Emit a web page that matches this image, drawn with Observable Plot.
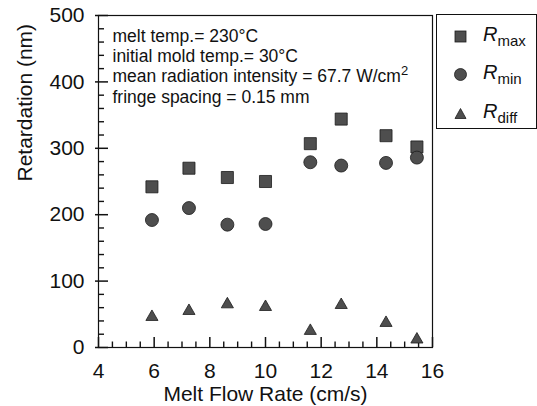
<!DOCTYPE html>
<html><head><meta charset="utf-8">
<script src="https://cdn.jsdelivr.net/npm/d3@7"></script>
<script src="https://cdn.jsdelivr.net/npm/@observablehq/plot@0.6"></script>
<style>
body{margin:0;background:#fff;}
#wrap{position:relative;width:537px;height:406px;font-family:"Liberation Sans",Arial,sans-serif;color:#111;}
#legend{position:absolute;left:436px;top:14px;width:101px;height:115px;border:1.2px solid #111;box-sizing:border-box;background:#fff;}
.entry{position:absolute;left:0;height:30px;width:100px;}
.entry svg{position:absolute;left:17px;top:8px;}
.entry .lab{position:absolute;left:46px;top:2px;font-size:20px;line-height:20px;white-space:nowrap;}
.entry .lab i{font-style:italic;}
.entry .lab sub{font-size:15px;vertical-align:-5px;line-height:0;}
</style></head>
<body><div id="wrap"></div>
<script>
const flowRate = [5.92, 7.25, 8.63, 10.0, 11.61, 12.72, 14.33, 15.44];
const rMax = [242, 270, 256, 250, 307, 344, 319, 302];
const rMin = [192, 210, 185, 186, 279, 274, 278, 286];
const rDiff = [46, 55, 65, 61, 25, 64, 37, 12];
const xMajor = [4, 6, 8, 10, 12, 14, 16];
const xMinor = [4.5, 5, 5.5, 6.5, 7, 7.5, 8.5, 9, 9.5, 10.5, 11, 11.5, 12.5, 13, 13.5, 14.5, 15, 15.5];
const yMajor = [0, 100, 200, 300, 400, 500];
const yMinor = [20, 40, 60, 80, 120, 140, 160, 180, 220, 240, 260, 280, 320, 340, 360, 380, 420, 440, 460, 480];
const annotation = ["melt temp.= 230°C", "initial mold temp.= 30°C", "mean radiation intensity = 67.7 W/cm²", "fringe spacing = 0.15 mm"];
const seriesNames = ["max", "min", "diff"];
const seriesSymbols = ["square", "circle", "triangle"];

const rows = flowRate.map((x, i) => ({x, rMax: rMax[i], rMin: rMin[i], rDiff: rDiff[i]}));
const fillC = "#4e4e4e", strokeC = "#1c1c1c", ink = "#111", tickInk = "#111";
const W = 537, H = 406, mL = 98, mR = 105, mT = 15, mB = 59;
const fw = W - mL - mR, fh = H - mT - mB;
// tick lengths in pixels, converted into data units of each scale
const xPerPx = (16 - 4) / fw, yPerPx = 500 / fh;

const chart = Plot.plot({
  width: W, height: H,
  marginLeft: mL, marginRight: mR, marginTop: mT, marginBottom: mB,
  style: {fontFamily: "Liberation Sans, Arial, sans-serif", background: "white", color: ink},
  x: {domain: [4, 16]},
  y: {domain: [0, 500]},
  marks: [
    Plot.ruleX(xMajor, {x: d => d, y1: 0, y2: 10 * yPerPx, stroke: tickInk, strokeWidth: 1.5}),
    Plot.ruleX(xMinor, {x: d => d, y1: 0, y2: 5.5 * yPerPx, stroke: tickInk, strokeWidth: 1.4}),
    Plot.ruleY(yMajor, {y: d => d, x1: 4 - 3 * xPerPx, x2: 4 + 10 * xPerPx, stroke: tickInk, strokeWidth: 1.5}),
    Plot.ruleY(yMinor, {y: d => d, x1: 4, x2: 4 + 6 * xPerPx, stroke: tickInk, strokeWidth: 1.4}),
    Plot.frame({stroke: ink, strokeWidth: 1.2}),
    Plot.axisX(xMajor, {tickSize: 0, tickPadding: 16, fontSize: 21, label: null}),
    Plot.axisY(yMajor, {tickSize: 0, tickPadding: 14, fontSize: 21, label: null}),
    Plot.text(["Melt Flow Rate (cm/s)"], {frameAnchor: "bottom", dy: 47, fontSize: 21, lineAnchor: "middle"}),
    Plot.text(["Retardation (nm)"], {frameAnchor: "left", dx: -73, rotate: -90, fontSize: 21, lineAnchor: "middle"}),
    Plot.text([annotation.join("\n")], {frameAnchor: "top-left", dx: 14, dy: 11.5, textAnchor: "start", lineAnchor: "top", lineHeight: 1.17, fontSize: 17.5}),
    Plot.dot(rows, {x: "x", y: "rMax", symbol: "square", r: 6.8, fill: fillC, stroke: strokeC, strokeWidth: 0.8}),
    Plot.dot(rows, {x: "x", y: "rMin", symbol: "circle", r: 6.5, fill: fillC, stroke: strokeC, strokeWidth: 0.8}),
    Plot.dot(rows, {x: "x", y: "rDiff", symbol: "triangle", r: 4.5, fill: fillC, stroke: strokeC, strokeWidth: 0.8})
  ]
});
// render the superscript "2" as a raised smaller digit (baseline-shift keeps later lines in place)
chart.querySelectorAll("tspan").forEach(t => {
  if (t.textContent.includes("²")) {
    t.textContent = t.textContent.replace("²", "");
    const sup = document.createElementNS("http://www.w3.org/2000/svg", "tspan");
    sup.setAttribute("baseline-shift", "super");
    sup.setAttribute("font-size", "13");
    sup.textContent = "2";
    t.appendChild(sup);
  }
});
const wrap = document.getElementById("wrap");
wrap.appendChild(chart);

const legend = document.createElement("div");
legend.id = "legend";
const symPaths = {
  square: '<rect x="1" y="1" width="11" height="11"/>',
  circle: '<circle cx="6.5" cy="6.5" r="6"/>',
  triangle: '<path d="M6.5 1.5 L12 11.5 L1 11.5 Z"/>'
};
seriesNames.forEach((name, i) => {
  const e = document.createElement("div");
  e.className = "entry";
  e.style.top = (i === 0 ? 7 : i === 1 ? 45 : 84) + "px";
  e.innerHTML = `<svg width="13" height="13" viewBox="0 0 13 13" fill="${fillC}" stroke="${strokeC}" stroke-width="0.8">${symPaths[seriesSymbols[i]]}</svg><span class="lab"><i>R</i><sub>${name}</sub></span>`;
  legend.appendChild(e);
});
wrap.appendChild(legend);
</script></body></html>
